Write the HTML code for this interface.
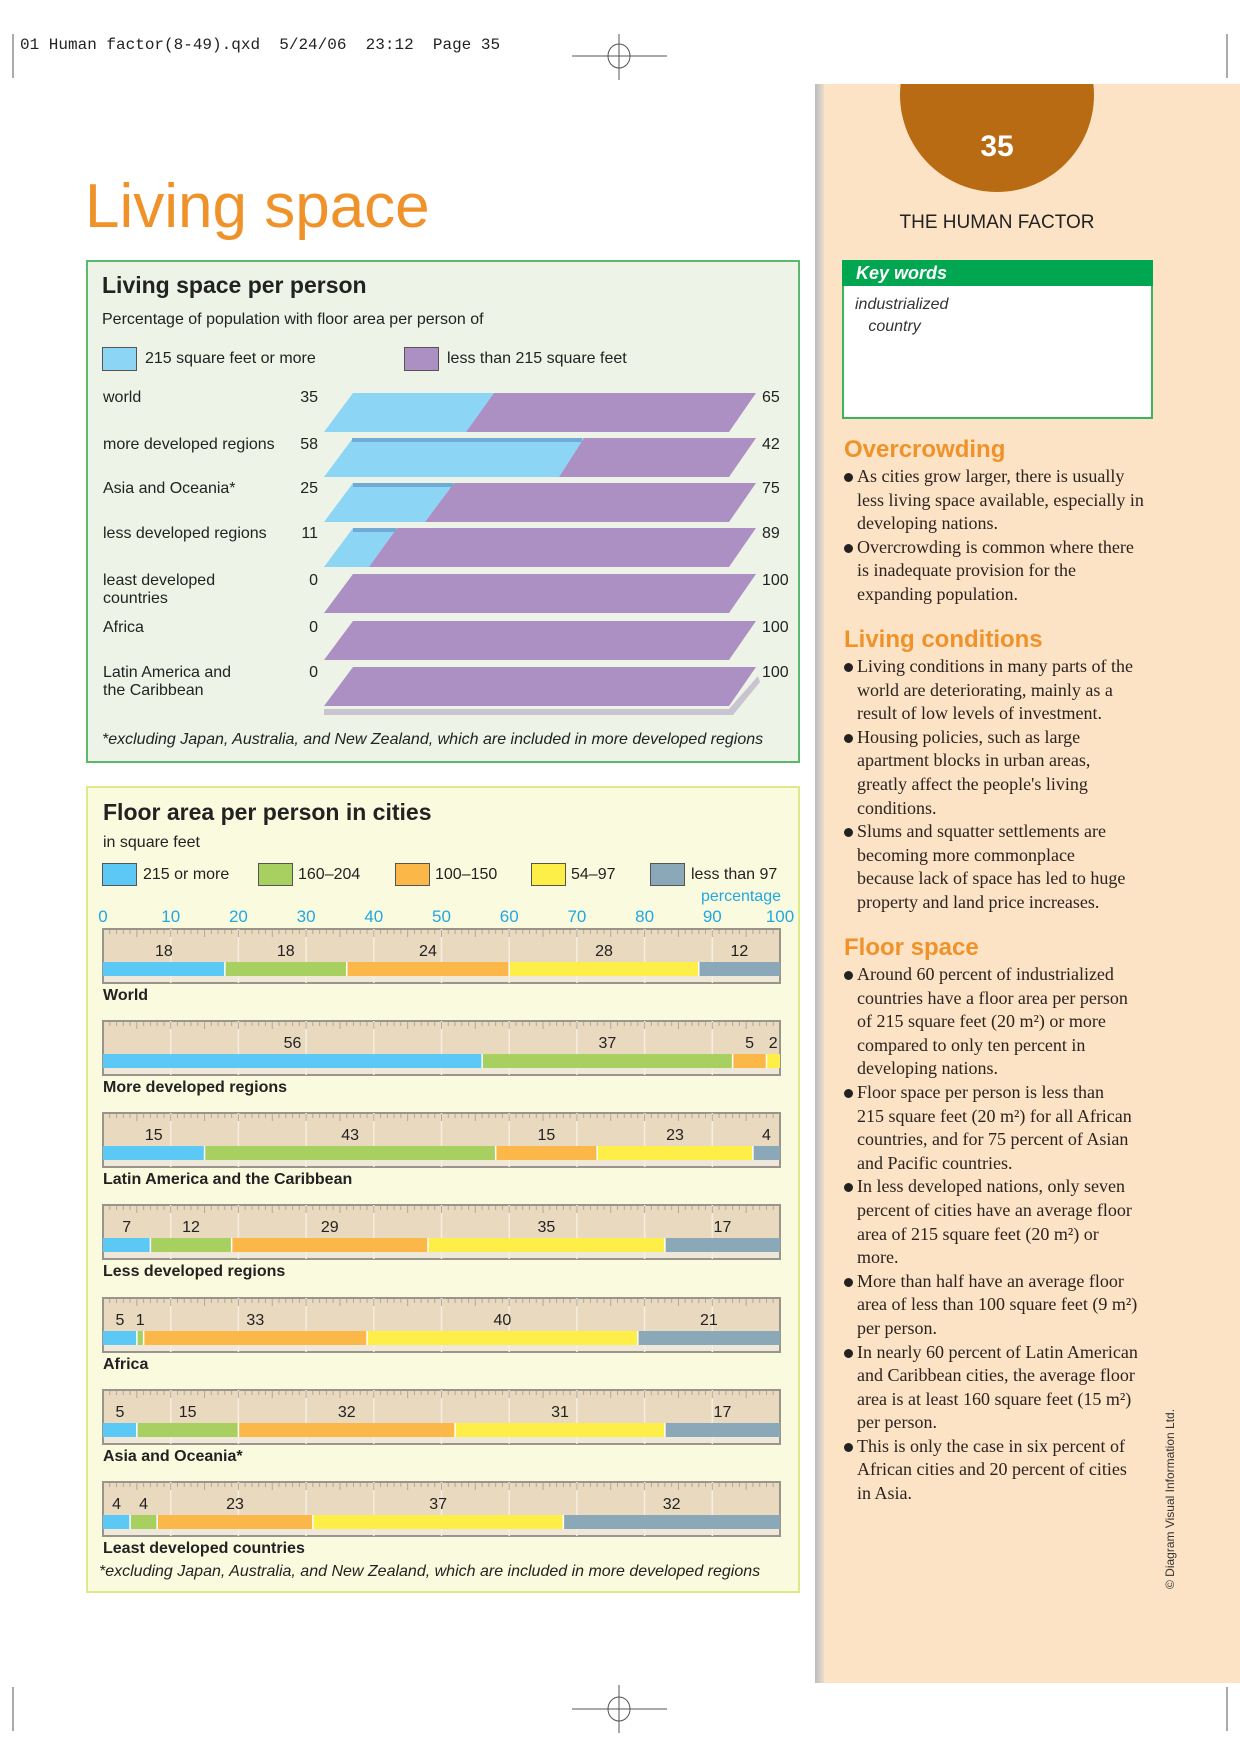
<!DOCTYPE html>
<html><head><meta charset="utf-8"><style>
*{margin:0;padding:0;box-sizing:border-box}
body{width:1240px;height:1754px;background:#fff;position:relative;overflow:hidden;font-family:"Liberation Sans",sans-serif;color:#222}
.a{position:absolute;white-space:nowrap}
.s{font-size:16px;line-height:18px}
.ser{font-family:"Liberation Serif",serif;font-size:18px;line-height:23.6px;color:#2a2320}
.h{font-family:"Liberation Sans",sans-serif;font-weight:bold;color:#f0922a;font-size:24px}
.bl{position:relative;padding-left:13px}
.bl:before{content:"";position:absolute;left:0;top:8px;width:9px;height:9px;border-radius:50%;background:#222}
.r{width:40px;text-align:right;left:278px}
</style></head><body>
<div class="a" style="left:20px;top:36px;font-family:'Liberation Mono',monospace;font-size:16px;color:#222">01 Human factor(8-49).qxd&nbsp;&nbsp;5/24/06&nbsp;&nbsp;23:12&nbsp;&nbsp;Page 35</div>
<svg class="a" style="left:0;top:0" width="1240" height="1754">
<g stroke="#555" stroke-width="1" fill="none">
<line x1="13" y1="34" x2="13" y2="78"/><line x1="1227" y1="34" x2="1227" y2="78"/>
<line x1="572" y1="56" x2="667" y2="56"/><line x1="619" y1="34" x2="619" y2="80"/><ellipse cx="619" cy="56" rx="11" ry="12"/>
<line x1="13" y1="1687" x2="13" y2="1731"/><line x1="1227" y1="1687" x2="1227" y2="1731"/>
<line x1="572" y1="1709" x2="667" y2="1709"/><line x1="619" y1="1685" x2="619" y2="1733"/><ellipse cx="619" cy="1709" rx="11" ry="12"/>
</g></svg>
<div class="a" style="left:815px;top:84px;width:425px;height:1599px;background:#fde3c6"></div>
<div class="a" style="left:815px;top:84px;width:9px;height:1599px;background:linear-gradient(90deg,#bdbdbd,#e8dccc)"></div>
<svg class="a" style="left:880px;top:84px" width="240" height="120"><circle cx="117" cy="11" r="97" fill="#b86b12"/></svg>
<div class="a" style="left:947px;top:130px;width:100px;text-align:center;color:#fff;font-weight:bold;font-size:30px">35</div>
<div class="a" style="left:880px;top:212px;width:234px;text-align:center;font-size:19px;color:#222">THE HUMAN FACTOR</div>
<div class="a" style="left:842px;top:260px;width:311px;height:159px;border:2px solid #3cb45a;background:#fff"></div>
<div class="a" style="left:842px;top:260px;width:311px;height:26px;background:#00a650;color:#fff;font-weight:bold;font-style:italic;font-size:18px;padding-left:14px;line-height:26px">Key words</div>
<div class="a" style="left:855px;top:294px;font-style:italic;font-size:16px;line-height:22px;color:#333">industrialized<br>&nbsp;&nbsp;&nbsp;country</div>

<div class="a h" style="left:844px;top:436px">Overcrowding</div>
<div class="a ser" style="left:844px;top:465px">
<div class="bl">As cities grow larger, there is usually<br>less living space available, especially in<br>developing nations.</div>
<div class="bl">Overcrowding is common where there<br>is inadequate provision for the<br>expanding population.</div></div>
<div class="a h" style="left:844px;top:626px">Living conditions</div>
<div class="a ser" style="left:844px;top:655px">
<div class="bl">Living conditions in many parts of the<br>world are deteriorating, mainly as a<br>result of low levels of investment.</div>
<div class="bl">Housing policies, such as large<br>apartment blocks in urban areas,<br>greatly affect the people's living<br>conditions.</div>
<div class="bl">Slums and squatter settlements are<br>becoming more commonplace<br>because lack of space has led to huge<br>property and land price increases.</div></div>
<div class="a h" style="left:844px;top:934px">Floor space</div>
<div class="a ser" style="left:844px;top:963px">
<div class="bl">Around 60 percent of industrialized<br>countries have a floor area per person<br>of 215 square feet (20 m²) or more<br>compared to only ten percent in<br>developing nations.</div>
<div class="bl">Floor space per person is less than<br>215 square feet (20 m²) for all African<br>countries, and for 75 percent of Asian<br>and Pacific countries.</div>
<div class="bl">In less developed nations, only seven<br>percent of cities have an average floor<br>area of 215 square feet (20 m²) or<br>more.</div>
<div class="bl">More than half have an average floor<br>area of less than 100 square feet (9 m²)<br>per person.</div>
<div class="bl">In nearly 60 percent of Latin American<br>and Caribbean cities, the average floor<br>area is at least 160 square feet (15 m²)<br>per person.</div>
<div class="bl">This is only the case in six percent of<br>African cities and 20 percent of cities<br>in Asia.</div></div>
<div class="a" style="left:1080px;top:1492px;width:180px;font-size:12px;color:#333;transform:rotate(-90deg);transform-origin:center">© Diagram Visual Information Ltd.</div>

<div class="a" style="left:85px;top:171px;font-size:62px;color:#f0922a;line-height:72px">Living space</div>

<div class="a" style="left:86px;top:260px;width:714px;height:503px;background:#eef3e7;border:2px solid #5cb86a"></div>
<div class="a" style="left:102px;top:272px;font-size:23px;font-weight:bold;color:#222">Living space per person</div>
<div class="a s" style="left:102px;top:311px">Percentage of population with floor area per person of</div>
<div class="a" style="left:102px;top:347px;width:35px;height:24px;background:#8dd5f5;border:1px solid #555"></div>
<div class="a s" style="left:145px;top:350px">215 square feet or more</div>
<div class="a" style="left:404px;top:347px;width:35px;height:24px;background:#ac90c4;border:1px solid #555"></div>
<div class="a s" style="left:447px;top:350px">less than 215 square feet</div>
<svg class="a" style="left:0;top:0" width="820" height="780">
<polygon points="324,709 729,709 758,676 760,682 733,715 324,715" fill="#c8c4d0"/>
<polygon points="353,393 494,393 466,432 324,432" fill="#8dd5f5"/><polygon points="494,393 756,393 729,432 466,432" fill="#ac90c4"/>
<polygon points="353,438 584,438 559,477 324,477" fill="#8dd5f5"/><polygon points="584,438 756,438 729,477 559,477" fill="#ac90c4"/><rect x="352" y="438" width="230" height="4" fill="#72aad6"/>
<polygon points="353,483 454,483 425,522 324,522" fill="#8dd5f5"/><polygon points="454,483 756,483 729,522 425,522" fill="#ac90c4"/><rect x="353" y="483" width="100" height="4" fill="#72aad6"/>
<polygon points="353,528 397,528 369,567 324,567" fill="#8dd5f5"/><polygon points="397,528 756,528 729,567 369,567" fill="#ac90c4"/><rect x="353" y="528" width="43" height="4" fill="#72aad6"/>
<polygon points="353,574 756,574 729,613 324,613" fill="#ac90c4"/>
<polygon points="353,621 756,621 729,660 324,660" fill="#ac90c4"/>
<polygon points="353,667 756,667 729,706 324,706" fill="#ac90c4"/>
</svg>
<div class="a s" style="left:103px;top:389px">world</div>
<div class="a s" style="left:103px;top:436px">more developed regions</div>
<div class="a s" style="left:103px;top:480px">Asia and Oceania*</div>
<div class="a s" style="left:103px;top:525px">less developed regions</div>
<div class="a s" style="left:103px;top:572px">least developed<br>countries</div>
<div class="a s" style="left:103px;top:619px">Africa</div>
<div class="a s" style="left:103px;top:664px">Latin America and<br>the Caribbean</div>
<div class="a s r" style="top:389px">35</div>
<div class="a s r" style="top:436px">58</div>
<div class="a s r" style="top:480px">25</div>
<div class="a s r" style="top:525px">11</div>
<div class="a s r" style="top:572px">0</div>
<div class="a s r" style="top:619px">0</div>
<div class="a s r" style="top:664px">0</div>
<div class="a s" style="left:762px;top:389px">65</div>
<div class="a s" style="left:762px;top:436px">42</div>
<div class="a s" style="left:762px;top:480px">75</div>
<div class="a s" style="left:762px;top:525px">89</div>
<div class="a s" style="left:762px;top:572px">100</div>
<div class="a s" style="left:762px;top:619px">100</div>
<div class="a s" style="left:762px;top:664px">100</div>
<div class="a s" style="left:102px;top:731px;font-style:italic">*excluding Japan, Australia, and New Zealand, which are included in more developed regions</div>

<div class="a" style="left:86px;top:786px;width:714px;height:807px;background:#fafadf;border:2px solid #dfe98a"></div>
<div class="a" style="left:103px;top:799px;font-size:23px;font-weight:bold;color:#222">Floor area per person in cities</div>
<div class="a s" style="left:103px;top:834px">in square feet</div>
<div class="a" style="left:102px;top:863px;width:35px;height:23px;background:#5cc8f5;border:1px solid #555"></div>
<div class="a" style="left:258px;top:863px;width:35px;height:23px;background:#a8d060;border:1px solid #555"></div>
<div class="a" style="left:395px;top:863px;width:35px;height:23px;background:#fbb848;border:1px solid #555"></div>
<div class="a" style="left:531px;top:863px;width:35px;height:23px;background:#fdee48;border:1px solid #555"></div>
<div class="a" style="left:650px;top:863px;width:35px;height:23px;background:#8aa8b8;border:1px solid #555"></div>
<div class="a s" style="left:143px;top:866px">215 or more</div>
<div class="a s" style="left:298px;top:866px">160–204</div>
<div class="a s" style="left:435px;top:866px">100–150</div>
<div class="a s" style="left:571px;top:866px">54–97</div>
<div class="a s" style="left:691px;top:866px">less than 97</div>
<div class="a" style="left:600px;top:888px;width:181px;text-align:right;font-size:16px;color:#22a8e0">percentage</div>
<svg class="a" style="left:0;top:0" width="820" height="1600" id="c2"></svg>
<div class="a s" style="left:103px;top:987px;font-weight:bold">World</div>
<div class="a s" style="left:103px;top:1079px;font-weight:bold">More developed regions</div>
<div class="a s" style="left:103px;top:1171px;font-weight:bold">Latin America and the Caribbean</div>
<div class="a s" style="left:103px;top:1263px;font-weight:bold">Less developed regions</div>
<div class="a s" style="left:103px;top:1356px;font-weight:bold">Africa</div>
<div class="a s" style="left:103px;top:1448px;font-weight:bold">Asia and Oceania*</div>
<div class="a s" style="left:103px;top:1540px;font-weight:bold">Least developed countries</div>
<div class="a s" style="left:99px;top:1563px;font-style:italic">*excluding Japan, Australia, and New Zealand, which are included in more developed regions</div>
<script>
(function(){
var s=document.getElementById('c2'),o='';
var x0=103,W=677;function X(p){return x0+W*p/100}
for(var i=0;i<=10;i++){o+='<text x="'+X(i*10)+'" y="922" font-family="Liberation Sans,sans-serif" font-size="17" fill="#22a8e0" text-anchor="middle">'+(i*10)+'</text>'}
var tops=[929,1021,1113,1205,1298,1390,1482];
var d=[[18,18,24,28,12],[56,37,5,2,0],[15,43,15,23,4],[7,12,29,35,17],[5,1,33,40,21],[5,15,32,31,17],[4,4,23,37,32]];
var cols=['#5cc8f5','#a8d060','#fbb848','#fdee48','#8aa8b8'];
for(var r=0;r<7;r++){var T=tops[r];
o+='<rect x="'+x0+'" y="'+T+'" width="'+W+'" height="54" fill="#e9d9bf" stroke="#9a958c" stroke-width="2"/>';
o+='<rect x="'+(x0+1)+'" y="'+(T+47)+'" width="'+(W-2)+'" height="6" fill="#efe7d8"/>';
for(var k=1;k<10;k++)o+='<line x1="'+X(k*10)+'" y1="'+T+'" x2="'+X(k*10)+'" y2="'+(T+54)+'" stroke="#f6eee0" stroke-width="1.5"/>';
for(var k=1;k<100;k++)o+='<line x1="'+X(k)+'" y1="'+(T+1)+'" x2="'+X(k)+'" y2="'+(T+(k%5?5:8))+'" stroke="#b0a898" stroke-width="1"/>';
var c=0;for(var j=0;j<5;j++){var v=d[r][j];if(!v)continue;
o+='<rect x="'+X(c)+'" y="'+(T+33)+'" width="'+(W*v/100)+'" height="14" fill="'+cols[j]+'"/>';
if(j>0)o+='<line x1="'+X(c)+'" y1="'+(T+33)+'" x2="'+X(c)+'" y2="'+(T+47)+'" stroke="#fff" stroke-width="1.5"/>';
o+='<text x="'+X(c+v/2)+'" y="'+(T+27)+'" font-family="Liberation Sans,sans-serif" font-size="16" fill="#222" text-anchor="middle">'+v+'</text>';
c+=v;}}
s.innerHTML=o;})();
</script>
</body></html>
